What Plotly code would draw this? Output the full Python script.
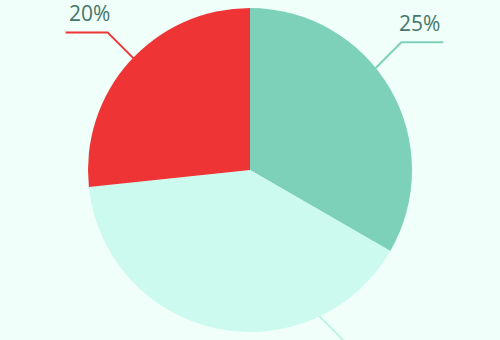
import math
import plotly.graph_objects as go

# ---- data ----
categories = ["A", "B", "C"]
values = [25, 30, 20]
label_texts = [f"{v}%" for v in values]
colors = ["#7DD1B9", "#CCFAEE", "#EE3434"]
line_colors = ["#7DD1B9", "#BFF3E5", "#EE3434"]

W, H = 500, 340
CX, CY, R = 250, 170, 162   # pie centre / radius in px
BG = "#F0FFFA"
TEXT_COLOR = "#46766A"

fig = go.Figure(go.Pie(
    labels=categories, values=values, sort=False, direction="clockwise",
    rotation=0, marker=dict(colors=colors, line=dict(width=0)),
    textinfo="none", hoverinfo="label+value", showlegend=False,
    domain=dict(x=[(CX - R) / W, (CX + R) / W], y=[(H - CY - R) / H, (H - CY + R) / H]),
))

def px2paper(x, y):
    return x / W, 1 - y / H

# leader lines computed from slice mid angles
total = sum(values)
acc = 0.0
shapes, annotations = [], []
for i, v in enumerate(values):
    mid = (acc + v / 2) / total * 2 * math.pi  # clockwise from 12 o'clock
    acc += v
    sx0 = CX + 0.4 * R * math.sin(mid)
    sy0 = CY - 0.4 * R * math.cos(mid)
    dx = 1 if mid < math.radians(200) else -1
    dy = -1 if math.cos(mid) > 0 else 1
    # walk along 45 deg diagonal until reaching knee radius
    Rk = 198
    ax, ay = sx0 - CX, sy0 - CY
    a = 2
    b = 2 * (ax * dx + ay * dy)
    c = ax * ax + ay * ay - Rk * Rk
    t = (-b + math.sqrt(b * b - 4 * a * c)) / (2 * a)
    kx, ky = sx0 + dx * t, sy0 + dy * t
    ex, ey = kx + dx * 42, ky
    pts = [px2paper(sx0, sy0), px2paper(kx, ky), px2paper(ex, ey)]
    path = "M {} {} L {} {} L {} {}".format(*[c for p in pts for c in p])
    shapes.append(dict(type="path", path=path, xref="paper", yref="paper",
                       layer="below", line=dict(color=line_colors[i], width=2)))
    # label sits outward of the horizontal segment (above for top, below for bottom)
    lx, ly = px2paper((kx + ex) / 2 - dx * 3, ky + dy * (19 if dy < 0 else 28))
    annotations.append(dict(x=lx, y=ly, xref="paper", yref="paper", text=label_texts[i],
                            showarrow=False, xanchor="center", yanchor="middle",
                            font=dict(family="Open Sans", size=21, color=TEXT_COLOR)))

fig.update_layout(
    width=W, height=H, margin=dict(l=0, r=0, t=0, b=0),
    paper_bgcolor=BG, plot_bgcolor=BG,
    shapes=shapes, annotations=annotations,
)
fig.write_html("out.html")
